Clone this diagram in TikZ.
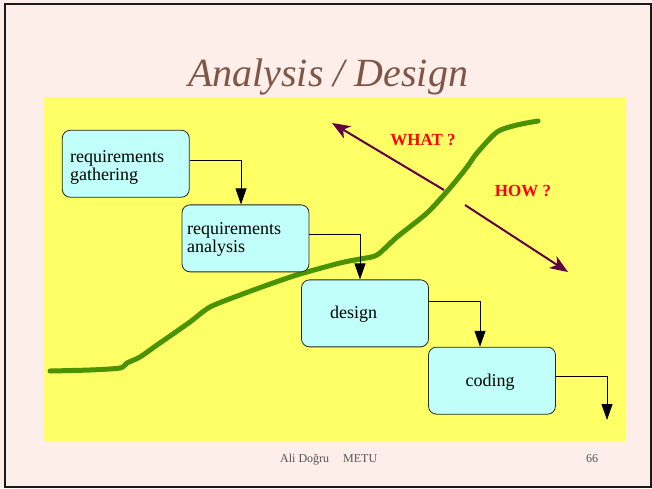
\documentclass[tikz,border=0pt]{standalone}
\usepackage{fontspec}
\setmainfont{Liberation Serif}
\usetikzlibrary{arrows.meta}
\definecolor{slidebg}{HTML}{FDEEEA}
\definecolor{panel}{HTML}{FFFF66}
\definecolor{boxfill}{HTML}{C0FFFA}
\definecolor{titlebrown}{HTML}{7F5646}
\definecolor{arrowpurple}{HTML}{600048}
\definecolor{curvegreen}{HTML}{4A9200}
\definecolor{footgray}{HTML}{555555}
\tikzset{
  phase/.style={draw=black!85, line width=0.8pt, rounded corners=8pt, fill=boxfill,
    minimum width=127pt, minimum height=67pt, inner sep=0pt},
  phasetext/.style={font=\fontsize{18}{18.5}\selectfont, inner sep=0pt, text=black},
  flow/.style={draw=black, line width=0.9pt, -{Triangle[length=16pt,width=11pt]}},
  question/.style={draw=arrowpurple, line width=2pt,
    -{Stealth[length=18pt,width=14pt,inset=5pt]}},
  qlabel/.style={font=\fontsize{17}{17}\selectfont\bfseries, text=red, inner sep=0pt, anchor=base},
  footer/.style={font=\fontsize{12}{12}\selectfont, text=footgray, inner sep=0pt, anchor=base},
}
\begin{document}
\begin{tikzpicture}[x=1pt, y=-1pt]
  \useasboundingbox (0,0) rectangle (652,488);
  % slide background and frame
  \fill[slidebg] (0,0) rectangle (652,488);
  \draw[black!90, line width=1.8pt] (5.3,4.2) rectangle (651,487);
  % yellow panel
  \fill[panel] (44,97) rectangle (626,441);

  % title
  \node[font=\fontsize{40}{40}\selectfont\itshape, text=titlebrown, inner sep=0pt, anchor=base]
    (title) at (328,86) {Analysis / Design};

  % green progress curve
  \draw[curvegreen, line width=5pt, line cap=round, line join=round]
    plot[smooth, tension=0.45] coordinates {
      (50,371) (90,370) (120,368) (127,363) (140,357) (157,345) (170,336)
      (190,322) (210,307) (240,295) (273,283) (300,274) (340,263) (360,259)
      (377,255) (397,237) (427,213) (450,188) (467,167) (477,153) (497,132)
      (517,125) (538,121)};

  % phase boxes
  \node[phase] (b1) at (125.75,163.75) {};
  \node[phase] (b2) at (245.5,238.35) {};
  \node[phase] (b3) at (365,313.35) {};
  \node[phase] (b4) at (492,380.65) {};

  \node[phasetext, align=left, anchor=north west] (t1) at (70,150.2) {requirements\\gathering};
  \node[phasetext, align=left, anchor=north west] (t2) at (187,222) {requirements\\analysis};
  \node[phasetext, anchor=base west] (t3) at (330,318.3) {design};
  \node[phasetext, anchor=base west] (t4) at (465.3,386.7) {coding};

  % flow between phases
  \coordinate (out) at (607,420);
  \draw[flow] ([yshift=3.5pt]b1.east) -| ([xshift=-4.5pt]b2.north);
  \draw[flow] ([yshift=4.35pt]b2.east) -| ([xshift=-5pt]b3.north);
  \draw[flow] ([yshift=11.65pt]b3.east) -| ([xshift=-12pt]b4.north);
  \draw[flow] ([yshift=4.65pt]b4.east) -| (out);

  % what / how arrows
  \coordinate (whatfrom) at (444,190);
  \coordinate (whatto) at (332,123);
  \coordinate (howfrom) at (465,205);
  \coordinate (howto) at (568,272);
  \draw[question] (whatfrom) -- (whatto);
  \draw[question] (howfrom) -- (howto);
  \node[qlabel] (what) at (423,145) {WHAT ?};
  \node[qlabel] (how) at (523,196.7) {HOW ?};

  % footer
  \node[footer, anchor=base west] (author) at (280,462.7) {Ali Doğru};
  \node[footer, anchor=base west] (inst) at (343,462.7) {METU};
  \node[footer] (page) at (592,462.7) {66};
\end{tikzpicture}
\end{document}
